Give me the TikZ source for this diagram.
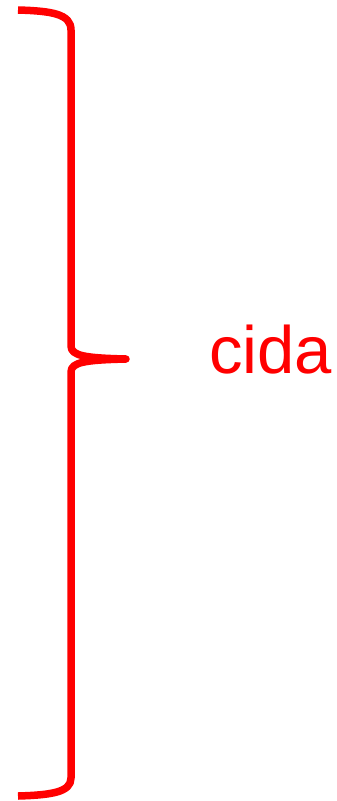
\documentclass[tikz,border=0pt]{standalone}
\usepackage{fontspec}
\setmainfont{Liberation Sans}
\tikzset{bracestroke/.style={draw=red,line width=7.5pt,line join=round}}
\begin{document}
\begin{tikzpicture}[x=1pt,y=-1pt]
\useasboundingbox (0,0) rectangle (337,801);
\coordinate (top) at (18,10);
\coordinate (tip) at (126,359);
\coordinate (bot) at (18,796);
\draw[bracestroke] (top) .. controls (52,11) and (71,14) .. (71,30) -- (71,346) .. controls (71,356) and (86,358) .. (tip);
\draw[bracestroke] (tip) .. controls (86,360) and (71,362) .. (71,372) -- (71,778) .. controls (71,792) and (52,795) .. (bot);
\fill[red] (tip) circle (3.75pt);
\node[anchor=base west,inner sep=0pt,text=red,font=\fontsize{67}{78}\selectfont] (label) at (209,373) {cida};
\end{tikzpicture}
\end{document}
